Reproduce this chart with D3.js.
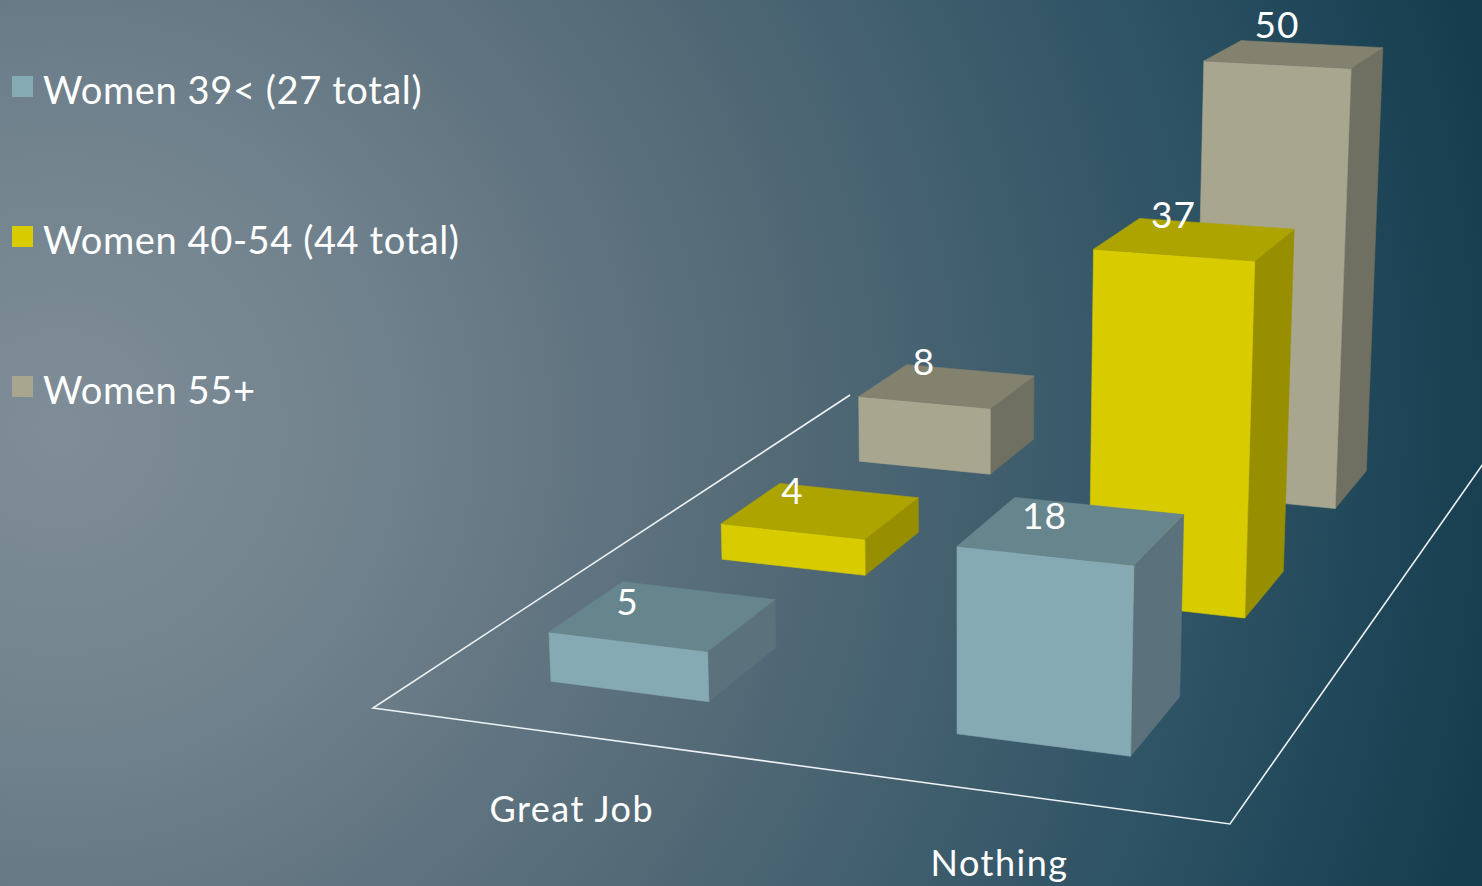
<!DOCTYPE html>
<html>
<head>
<meta charset="utf-8">
<script src="https://cdn.jsdelivr.net/npm/d3@7"></script>
<style>
  html, body { margin: 0; padding: 0; background: #153d4e; }
  svg { display: block; }
  text { font-family: Lato, "Open Sans", sans-serif; fill: #ffffff; }
</style>
</head>
<body>
<svg id="chart" width="1482" height="886"></svg>
<script>
// ---- data ----
const categories = ["Great Job", "Nothing"];
const seriesNames = ["Women 39< (27 total)", "Women 40-54 (44 total)", "Women 55+"];
const women39 = [5, 18];
const women40to54 = [4, 37];
const women55plus = [8, 50];
const seriesValues = [women39, women40to54, women55plus];

// face colours per series: front, top, side
const frontColors = ["#86aab3", "#d8cb00", "#a8a68f"];
const topColors   = ["#67858d", "#ada400", "#83826f"];
const sideColors  = ["#5b727c", "#988f00", "#6f7061"];

const W = 1482, H = 886;
const svg = d3.select("#chart");

// ---- background ----
const defs = svg.append("defs");
const bg = defs.append("radialGradient").attr("id", "bg")
  .attr("gradientUnits", "userSpaceOnUse")
  .attr("cx", 60).attr("cy", 430).attr("r", 1460);
[[0, "#7f8d97"], [0.2, "#72838e"], [0.5, "#526976"], [0.8, "#2c5264"], [1, "#153d4e"]]
  .forEach(([o, c]) => bg.append("stop").attr("offset", o).attr("stop-color", c));
svg.append("rect").attr("width", W).attr("height", H).attr("fill", "url(#bg)");

// ---- 3D scales: u = category axis, v = depth (series), t = height ----
const uScale = d3.scaleBand().domain(categories).range([0, 1]).paddingInner(0.6).paddingOuter(0.3);
const vScale = d3.scaleBand().domain(seriesNames).range([0, 1]).paddingInner(0.6).paddingOuter(0.3);
const hScale = d3.scaleLinear().domain([0, 50]).range([0, 0.049]);

// ---- camera: floor plane corners (u,v) -> screen, plus vertical vanishing point ----
const floorCorners = { p00: [373, 708], p10: [1230, 824], p11: [1490, 454], p01: [850, 395] };
const verticalVP = [958, 10930];

function squareToQuad(q) {
  const [x0, y0] = q.p00, [x1, y1] = q.p10, [x2, y2] = q.p11, [x3, y3] = q.p01;
  const dx1 = x1 - x2, dx2 = x3 - x2, dx3 = x0 - x1 + x2 - x3;
  const dy1 = y1 - y2, dy2 = y3 - y2, dy3 = y0 - y1 + y2 - y3;
  const det = dx1 * dy2 - dx2 * dy1;
  const g = (dx3 * dy2 - dx2 * dy3) / det;
  const h = (dx1 * dy3 - dx3 * dy1) / det;
  return {
    a: x1 - x0 + g * x1, b: x3 - x0 + h * x3, c: x0,
    d: y1 - y0 + g * y1, e: y3 - y0 + h * y3, f: y0,
    g, h
  };
}
const M = squareToQuad(floorCorners);

function project(u, v, t) {
  const X = M.a * u + M.b * v + M.c - t * verticalVP[0];
  const Y = M.d * u + M.e * v + M.f - t * verticalVP[1];
  const Wh = M.g * u + M.h * v + 1 - t;
  return [X / Wh, Y / Wh];
}

const line = d3.line();

// ---- floor outline (left, front and right edges) ----
svg.append("path")
  .attr("d", line([project(0, 1, 0), project(0, 0, 0), project(1, 0, 0), project(1, 1, 0)]))
  .attr("fill", "none")
  .attr("stroke", "#eef2f4")
  .attr("stroke-width", 1.6);

// ---- bars, painted back to front ----
const bars = [];
seriesNames.forEach((s, si) => {
  categories.forEach((c, ci) => {
    bars.push({ si, ci, series: s, category: c, value: seriesValues[si][ci] });
  });
});
bars.sort((p, q) => (q.si - p.si) || (p.ci - q.ci));

const barG = svg.append("g");
bars.forEach(b => {
  const u0 = uScale(b.category), u1 = u0 + uScale.bandwidth();
  const v0 = vScale(b.series), v1 = v0 + vScale.bandwidth();
  const t = hScale(b.value);
  const faces = [
    { pts: [[u1, v0, 0], [u1, v1, 0], [u1, v1, t], [u1, v0, t]], fill: sideColors[b.si] },
    { pts: [[u0, v0, 0], [u1, v0, 0], [u1, v0, t], [u0, v0, t]], fill: frontColors[b.si] },
    { pts: [[u0, v0, t], [u1, v0, t], [u1, v1, t], [u0, v1, t]], fill: topColors[b.si] }
  ];
  const g = barG.append("g");
  faces.forEach(f => {
    g.append("path")
      .attr("d", line(f.pts.map(p => project(...p))) + "Z")
      .attr("fill", f.fill)
      .attr("stroke", f.fill)
      .attr("stroke-width", 0.6)
      .attr("stroke-linejoin", "round");
  });
});

// ---- value labels ----
const labelG = svg.append("g");
bars.forEach(b => {
  const uc = uScale(b.category) + uScale.bandwidth() / 2;
  const [x, y] = project(uc, vScale(b.series), hScale(b.value));
  labelG.append("text")
    .attr("x", x).attr("y", y - 27)
    .attr("text-anchor", "middle")
    .attr("font-size", 37)
    .attr("letter-spacing", 1)
    .text(b.value);
});

// ---- category labels (kept inside the canvas, descenders included) ----
categories.forEach(c => {
  const [x, y] = project(uScale(c) + uScale.bandwidth() / 2, 0, 0);
  svg.append("text")
    .attr("x", x).attr("y", Math.min(y + 87, H - 10))
    .attr("text-anchor", "middle")
    .attr("font-size", 36)
    .attr("letter-spacing", 1.5)
    .text(c);
});

// ---- legend ----
const legendY = d3.scalePoint().domain(seriesNames).range([104, 404]);
const legend = svg.append("g");
seriesNames.forEach((s, i) => {
  const y = legendY(s);
  legend.append("rect")
    .attr("x", 12).attr("y", y - 28).attr("width", 21).attr("height", 21)
    .attr("fill", frontColors[i]);
  legend.append("text")
    .attr("x", 43).attr("y", y)
    .attr("font-size", 38)
    .attr("letter-spacing", 0.6)
    .text(s);
});
</script>
</body>
</html>
